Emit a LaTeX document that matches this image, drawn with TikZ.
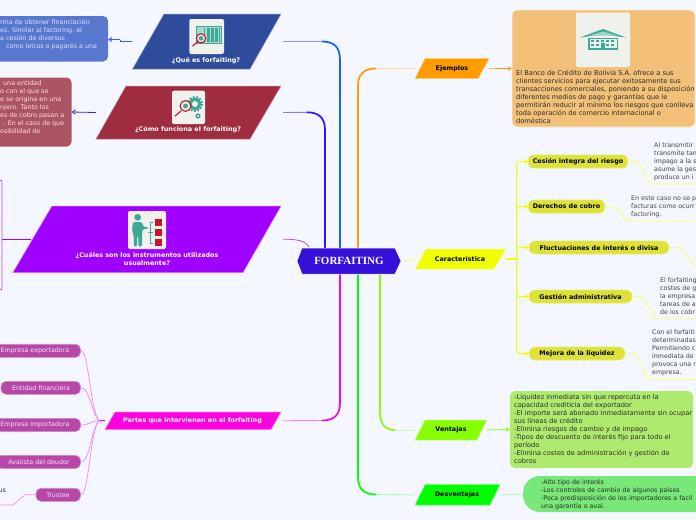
\documentclass[tikz,border=0pt]{standalone}
\usepackage{fontspec}
\setmainfont{DejaVu Sans}
\newfontfamily\rootfont{Liberation Serif}
\usetikzlibrary{arrows.meta,calc}
\pgfdeclarelayer{bg}
\pgfsetlayers{bg,main}
\definecolor{pagebg}{HTML}{F4F7FF}
\definecolor{iconbg}{HTML}{F0F0EC}
\definecolor{iteal}{HTML}{3DA896}
\definecolor{ired}{HTML}{C8142E}
\definecolor{cblue}{HTML}{2E4C9B}
\definecolor{cred}{HTML}{A02C40}
\definecolor{cviolet}{HTML}{A000FF}
\definecolor{cpink}{HTML}{FF00E0}
\definecolor{corange}{HTML}{FF9C00}
\definecolor{cyell}{HTML}{F0FF00}
\definecolor{clime}{HTML}{88FF00}
\definecolor{cgreen}{HTML}{00FF00}
\definecolor{cpill}{HTML}{DDE235}
\definecolor{cmag}{HTML}{B848A8}
\definecolor{ink}{HTML}{2C2C2C}
\definecolor{note}{HTML}{444444}
\tikzset{
  txt/.style={inner sep=0pt,font=\fontsize{6.65}{8}\selectfont,text=ink,align=left},
  smalltxt/.style={inner sep=0pt,font=\fontsize{6.35}{8}\selectfont,align=left},
  headw/.style={inner sep=0pt,font=\fontsize{6.4}{8}\selectfont\bfseries,text=white,align=center},
  headk/.style={inner sep=0pt,font=\fontsize{6.4}{8}\selectfont\bfseries,text=black,align=center},
  pillbox/.style={rounded corners=4.5pt,fill=cpill,draw=cpill!70!white,line width=.6pt,inner sep=0pt,minimum height=13pt,font=\fontsize{6.4}{8}\selectfont\bfseries,text=black},
  magbox/.style={rounded corners=5pt,fill=cmag,draw=cmag!65!white,line width=.6pt,inner sep=0pt,minimum height=13pt},
  magtxt/.style={inner sep=0pt,font=\fontsize{6.35}{8}\selectfont,text=white!85!cmag},
  iconbox/.style={fill=iconbg,rounded corners=2pt},
  thinl/.style={line width=.9pt},
  thick2/.style={line width=1.7pt},
  tip/.style={-{Straight Barb[length=3pt,width=4pt]}},
  notetxt/.style={inner sep=0pt,font=\fontsize{6.3}{8}\selectfont,text=note,align=left},
}
% name, xTL, xTR, xBL, xBR, yT, yB, colour
\newcommand\pgram[8]{%
  \path[fill=#8,draw=#8!55!white,line width=.5pt] (#2,#6)--(#3,#6)--(#5,#7)--(#4,#7)--cycle;
  \pgfmathsetmacro\pgw{#3-#4}\pgfmathsetmacro\pgh{#7-#6}%
  \pgfmathsetmacro\pgx{(#3+#4)/2}\pgfmathsetmacro\pgy{(#6+#7)/2}%
  \node[inner sep=0pt,minimum width=\pgw pt,minimum height=\pgh pt] (#1) at (\pgx,\pgy) {};
}
\begin{document}
\begin{tikzpicture}[x=1pt,y=-1pt]
\useasboundingbox (0,0) rectangle (696,520);
\clip (0,0) rectangle (696,520);

% ---------- main shapes
\node[inner sep=0pt,minimum width=104pt,minimum height=26pt] (root) at (349,261) {};
\path[fill={rgb,255:red,52;green,16;blue,216},draw=white,line width=.5pt] (297,261)--(302,248)--(395,248)--(401,261)--(395,274)--(302,274)--cycle;
\node[inner sep=0pt,font=\rootfont\fontsize{11}{13}\selectfont\bfseries,text=white] (roott) at (349,261) {FORFAITING};

\pgram{q1}{164}{281}{132.5}{250}{14}{69}{cblue}
\pgram{q2}{126}{281}{96}{250}{86}{139}{cred}
\pgram{q3}{52}{281}{13}{243}{206}{272.5}{cviolet}
\pgram{q4}{115}{281}{105}{271}{412}{429.5}{cpink}
\pgram{r1}{425}{489}{415}{478}{58.7}{78.7}{corange}
\pgram{r2}{426}{506}{415}{494}{249}{269}{cyell}
\pgram{r3}{425}{487}{415}{477}{420}{440}{clime}
\pgram{r4}{425}{500}{415}{490}{484.7}{505}{cgreen}

\node[headw] (q1t) at (206,60.5) {¿Qué es forfaiting?};
\node[headw] (q2t) at (188,129.5) {¿Cómo funciona el forfaiting?};
\node[headw] (q3t) at (147,259) {¿Cuáles son los instrumentos utilizados\\usualmente?};
\node[headw] (q4t) at (192.5,420.5) {Partes que intervienen en el forfaiting};
\node[headk] (r1t) at (452,68.5) {Ejemplos};
\node[headk] (r2t) at (460,259) {Característica};
\node[headk] (r3t) at (451,430) {Ventajas};
\node[headk] (r4t) at (457,495) {Desventajas};

% ---------- left detail boxes
\path[fill={rgb,255:red,88;green,120;blue,208},rounded corners=5pt] (-12,16) rectangle (108,61.5);
\node[inner sep=0pt,minimum width=120pt,minimum height=45.5pt] (b1) at (48,38.75) {};
\node[smalltxt,text=white!88!blue,anchor=west] (b1t) at (0,34.6) {rma de obtener financiación\\es. Similar al factoring, el\\a cesión de diversos\\\hspace*{6pt}como letras o pagarés a una};
\path[fill={rgb,255:red,170;green,84;blue,100},rounded corners=5pt] (-12,77.5) rectangle (71.5,146.7);
\node[inner sep=0pt,minimum width=83.5pt,minimum height=69pt] (b2) at (29.75,112) {};
\node[smalltxt,text=white!88!red,anchor=west] (b2t) at (0,107.3) {\hspace*{3pt}una entidad\\o con el que se\\e se origina en una\\njero. Tanto los\\es de cobro pasan a\\\hspace*{3pt}. En el caso de que\\osibilidad de};
\path[draw=cviolet!70!white,line width=.8pt,rounded corners=2pt] (-8,180) rectangle (2,290);
\node[inner sep=0pt,minimum width=10pt,minimum height=110pt] (b3) at (-3,235) {};

% ---------- right detail boxes
\path[fill={rgb,255:red,242;green,192;blue,120},draw=corange!20!white,line width=.7pt,rounded corners=5pt] (512,10) rectangle (695,127);
\node[inner sep=0pt,minimum width=183pt,minimum height=117pt] (e1) at (603.5,68.5) {};
\node[txt] (e1t) at (516,97) [anchor=west] {El Banco de Crédito de Bolivia S.A. ofrece a sus\\clientes servicios para ejecutar exitosamente sus\\transacciones comerciales, poniendo a su disposición\\diferentes medios de pago y garantías que le\\permitirán reducir al mínimo los riesgos que conlleva\\toda operación de comercio internacional o\\doméstica};
\path[fill={rgb,255:red,174;green,234;blue,110},rounded corners=5pt] (510,391) rectangle (693,468);
\node[inner sep=0pt,minimum width=183pt,minimum height=77pt] (v1) at (601.5,429.5) {};
\node[txt,anchor=west] (v1t) at (514,429.5) {-Liquidez inmediata sin que repercuta en la\\capacidad crediticia del exportador\\-El importe será abonado inmediatamente sin ocupar\\sus líneas de crédito\\-Elimina riesgos de cambio y de impago\\-Tipos de descuento de interés fijo para todo el\\período\\-Elimina costes de administración y gestión de\\cobros};
\path[fill={rgb,255:red,120;green,232;blue,120},rounded corners=17pt] (523,476) rectangle (730,512);
\node[inner sep=0pt,minimum width=207pt,minimum height=36pt] (d1) at (626.5,494) {};
\node[smalltxt,text=ink,anchor=west] (d1t) at (541,494.7) {-Alto tipo de interés\\-Los controles de cambio de algunos países\\-Poca predisposición de los importadores a facil\\una garantía o aval.};

% ---------- characteristic pills and their notes
\node[pillbox,minimum width=99pt] (c1) at (578,161.5) {Cesión integra del riesgo};
\node[pillbox,minimum width=76pt] (c2) at (566.5,206.5) {Derechos de cobro};
\node[pillbox,rounded corners=6.4pt,minimum width=140pt] (c3) at (599,247.5) {Fluctuaciones de interés o divisa};
\node[pillbox,rounded corners=6.4pt,minimum width=103pt] (c4) at (580.5,296.5) {Gestión administrativa};
\node[pillbox,rounded corners=6.4pt,minimum width=96pt] (c5) at (577,353.5) {Mejora de la liquidez};
\node[notetxt,anchor=west] (n1) at (654,161.7) {Al transmitir\\transmite tan\\impago a la e\\asume la ges\\produce un i};
\node[notetxt,anchor=west] (n2) at (631,207) {En este caso no se p\\facturas como ocurr\\factoring.};
\node[notetxt,anchor=west] (n4) at (660,296) {El forfaiting\\costes de g\\la empresa\\tareas de a\\de los cobr};
\node[notetxt,anchor=west] (n5) at (652,353) {Con el forfaiti\\determinadas\\Permitiendo c\\inmediata de\\provoca una r\\empresa.};
\coordinate (u1a) at (638,161.5); \coordinate (u1) at (650,184); \coordinate (u1e) at (700,184);
\coordinate (u2a) at (615,206.5); \coordinate (u2) at (627,221); \coordinate (u2e) at (700,221);
\coordinate (u3a) at (680,247.5); \coordinate (u3) at (695,266); \coordinate (u3e) at (700,266);
\coordinate (u4a) at (643,296.5); \coordinate (u4) at (655,319); \coordinate (u4e) at (700,319);
\coordinate (u5a) at (636,353.5); \coordinate (u5) at (648,379.5); \coordinate (u5e) at (700,379.5);

% ---------- parties
\node[magbox,minimum width=91pt] (p1) at (35,350.8) {};
\node[magtxt] (p1t) at (35,350.8) {Empresa exportadora};
\node[magbox,minimum width=79.5pt] (p2) at (40.75,387.8) {};
\node[magtxt] (p2t) at (41,387.8) {Entidad financiera};
\node[magbox,minimum width=91pt] (p3) at (35,425) {};
\node[magtxt] (p3t) at (35,425) {Empresa importadora};
\node[magbox,minimum width=84pt] (p4) at (38.5,462) {};
\node[magtxt] (p4t) at (39,462) {Avalista del deudor};
\node[magbox,minimum width=44.5pt] (p5) at (58.25,494.8) {};
\node[magtxt] (p5t) at (58,494.8) {Trustee};
\node[inner sep=0pt,font=\fontsize{6.3}{8}\selectfont,text=ink,anchor=west] (tr) at (-1.5,490.7) {us};
\coordinate (pj) at (99,420.5);
\coordinate (tra) at (25,494.8); \coordinate (trb) at (13,505); \coordinate (trc) at (-5,505);

% ---------- connectors (behind the shapes)
\begin{pgfonlayer}{bg}
\clip (0,0) rectangle (696,520);
\fill[pagebg] (0,0) rectangle (696,520);
% trunks left of the root
\coordinate (t1) at (322,41.5); \coordinate (t1b) at (340,60);
\draw[thinl,color={rgb,255:red,136;green,152;blue,255}] ([xshift=2pt]q1.east) -- (t1);
\draw[thick2,color={rgb,255:red,16;green,96;blue,255}] (t1) .. controls (334,41.5) and (340,47) .. (t1b) -- (t1b |- root.north);
\coordinate (t2) at (307,112.3); \coordinate (t2b) at (325,130);
\draw[thinl,color={rgb,255:red,136;green,120;blue,255}] ([xshift=2pt]q2.east) -- (t2);
\draw[thick2,color={rgb,255:red,48;green,16;blue,255}] (t2) .. controls (319,112.3) and (325,118) .. (t2b) -- (t2b |- root.north);
\coordinate (t3) at (309,247);
\draw[line width=.8pt,color={rgb,255:red,176;green,80;blue,240}] ([xshift=2pt]q3.east) .. controls (297,239) and (306,241) .. (t3);
\coordinate (t4) at (322,420.5); \coordinate (t4b) at (340,403);
\draw[thinl,color=cpink!50!white] ([xshift=2pt]q4.east) -- (t4);
\draw[thick2,color=cpink] (t4) .. controls (334,420.5) and (340,415) .. (t4b) -- (t4b |- root.south);
% trunks right of the root
\coordinate (t5) at (376,68.5); \coordinate (t5b) at (358,86);
\draw[thick2,color=corange] (t5b |- root.north) -- (t5b) .. controls (358,74) and (364,68.5) .. (t5);
\draw[thinl,color=corange!35!white] (t5) -- (r1.west);
\draw[thinl,color=cyell!60!white] (root.east) -- (r2.west);
\coordinate (t6) at (395,430); \coordinate (t6b) at (380,412);
\draw[thick2,color=clime] (t6b |- root.south) -- (t6b) .. controls (380,424) and (385,430) .. (t6);
\draw[thinl,color=clime!40!white] (t6) -- (r3.west);
\coordinate (t7) at (376,494.5); \coordinate (t7b) at (358,477);
\draw[thick2,color=cgreen] (t7b |- root.south) -- (t7b) .. controls (358,489) and (364,494.5) .. (t7);
\draw[thinl,color=cgreen!35!white] (t7) -- (r4.west);
% left details
\coordinate (s1) at (120,41.5); \coordinate (s2) at (120,39.5);
\draw[line width=.8pt,color={rgb,255:red,48;green,96;blue,255}] (q1.west) -- (s1) -- (s2);
\draw[line width=.8pt,tip,color={rgb,255:red,48;green,96;blue,255}] (s2) -- (b1.east |- s2);
\draw[line width=.8pt,tip,color={rgb,255:red,48;green,32;blue,255}] (q2.west) -- (b2.east);
\coordinate (v3) at (31,239);
\draw[line width=.8pt,color=cviolet] (v3) -- (2,239);
% right details
\draw[line width=.8pt,tip,color=corange] (r1.east) -- (e1.west);
\draw[line width=.8pt,tip,color=clime] (r3.east) -- (v1.west);
\draw[thinl,color=cgreen!35!white] (r4.east) -- (d1.west);
% characteristic fan
\coordinate (cj) at (516.5,259);
\draw[line width=1.2pt,color=cyell] (r2.east) -- (cj);
\foreach \k in {c1,c2,c3,c4,c5}{
  \draw[line width=1pt,color=cyell,tip,rounded corners=3pt] (cj) -- (cj |- \k.west) -- (\k.west);
}
\draw[thinl,color=cyell!55!white,rounded corners=3pt] (c1.east) -- (u1a) -- (u1) -- (u1e);
\draw[thinl,color=cyell!55!white,rounded corners=3pt] (c2.east) -- (u2a) -- (u2) -- (u2e);
\draw[thinl,color=cyell!55!white] (c3.east) -- (u3a) -- (u3) -- (u3e);
\draw[thinl,color=cyell!55!white] (c4.east) -- (u4a) -- (u4) -- (u4e);
\draw[thinl,color=cyell!55!white] (c5.east) -- (u5a) -- (u5) -- (u5e);
% parties fan
\draw[line width=1pt,color=cpink] (q4.west) -- (pj);
\draw[line width=.7pt,color=cpink!50!white] (pj) .. controls (90,410) and (89,350.8) .. (p1.east);
\draw[line width=.7pt,color=cpink!50!white] (pj) .. controls (91,412) and (90,387.8) .. (p2.east);
\draw[line width=.7pt,color=cpink!50!white] (pj) .. controls (92,420.5) and (90,425) .. (p3.east);
\draw[line width=.7pt,color=cpink!50!white] (pj) .. controls (91,429) and (90,462) .. (p4.east);
\draw[line width=.7pt,color=cpink!50!white] (pj) .. controls (90,431) and (89,494.8) .. (p5.east);
\draw[line width=.7pt,color=cpink!50!white] (p5.west) -- (tra) -- (trb) -- (trc);
\end{pgfonlayer}

% ---------- icon 1: barcode under a lens
\path[iconbox] (189.3,19) rectangle (224,54);
\fill[iteal!45!white] (196,26.7) rectangle (221.7,43.3);
\draw[iteal,line width=.6pt] (196,26.7) rectangle (221.7,43.3);
\foreach \bx/\bw in {204/1.2,206.5/.7,208/1.5,210.5/.7,212/1.5,214.5/.7,216/1.5,218.5/1.2}{
  \fill[iteal] (\bx,28) rectangle ++(\bw,14);
}
\draw[ired,line width=1.1pt,line cap=round] (198,41.5) -- (192.7,46);
\fill[iconbg] (201,38.3) circle (4.6);
\fill[iteal] (201,38.3) circle (2.3);
\draw[ired,line width=1.1pt] (201,38.3) circle (4.6);
% ---------- icon 2: lens and gears
\path[iconbox] (172,90.7) rectangle (205,124);
\draw[iteal,line width=2.4pt,dash pattern=on 1.8pt off 1.5pt] (195,104) circle (6.8);
\fill[iteal] (195,104) circle (6.2);
\fill[iconbg] (195,104) circle (3);
\fill[iteal] (198,116) circle (2.7);
\fill[iconbg] (198,116) circle (1);
\draw[ired,line width=1.1pt,line cap=round] (181,111) -- (175,116);
\fill[iconbg] (185.5,106) circle (5.4);
\fill[iteal] (185.5,106) circle (2.5);
\draw[ired,line width=1.1pt] (185.5,106) circle (5.4);
% ---------- icon 3: presenter and list
\path[iconbox] (128,211) rectangle (166,249);
\fill[iteal] (137.7,217.3) circle (3.4);
\fill[iteal,rounded corners=1.5pt] (133,222) -- (142,222) -- (143,226.5) -- (148,227.3) -- (148,228.8) -- (142.5,229) -- (142,236) -- (142,246.5) -- (138.3,246.5) -- (138.3,236) -- (137.2,236) -- (137.2,246.5) -- (133.8,246.5) -- (133.8,236) -- (132,230) -- cycle;
\draw[iteal,line width=.9pt] (153,222) -- (150,222) -- (150,243) -- (153,243);
\draw[iteal,line width=.9pt] (148,232) -- (153,232);
\fill[ired] (155,218.7) rectangle (162,225.5);
\fill[ired] (155,228.7) rectangle (162,235.7);
\fill[ired] (155,238.7) rectangle (162,245.7);
% ---------- icon 4: bank
\path[iconbox] (576,12.5) rectangle (630,67);
\fill[iteal] (580,37.5) -- (603,29) -- (626,37.5) -- (603,34.5) -- cycle;
\fill[iteal!50!white] (589,35.5) -- (603,31.5) -- (617,35.5) -- cycle;
\fill[iteal] (588,37.5) rectangle (618,50);
\fill[iconbg] (589.5,38.5) rectangle (616.5,48);
\foreach \wx in {591,596,601,606,611}{
  \fill[iteal] (\wx,39.5) rectangle ++(3,2.8);
  \fill[iteal] (\wx,43.6) rectangle ++(3,2.8);
}
\fill[iteal] (601,43) rectangle (605,50);
\end{tikzpicture}
\end{document}
